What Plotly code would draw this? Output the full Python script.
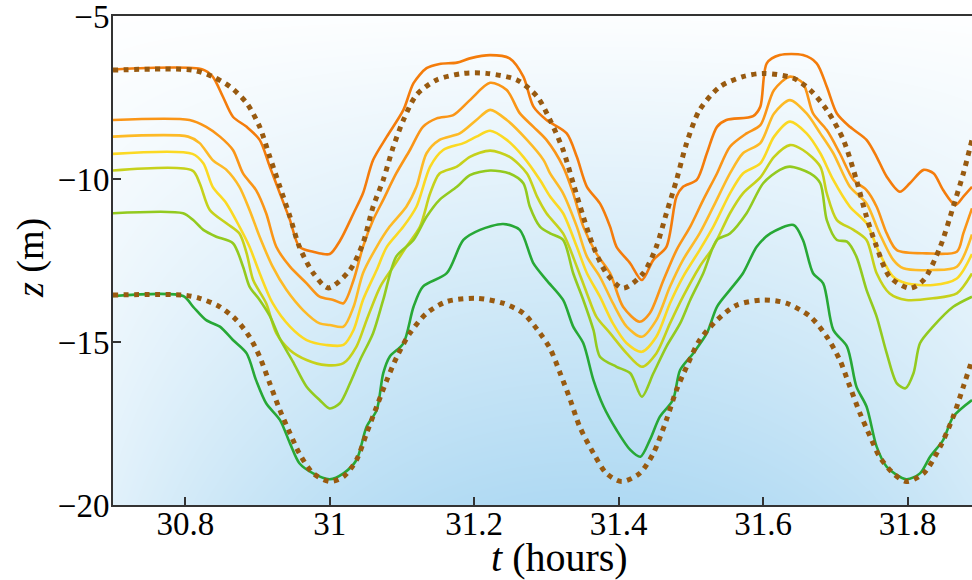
import numpy as np
import plotly.graph_objects as go

# ---------------- data ----------------
d1_t = [30.70, 30.81, 30.838, 30.862, 30.885, 30.903, 30.917, 30.931, 30.945, 30.958, 30.977, 30.998,
        31.028, 31.046, 31.06, 31.074, 31.088, 31.102, 31.12, 31.148, 31.185, 31.217, 31.259, 31.287,
        31.305, 31.323, 31.337, 31.351, 31.365, 31.383, 31.406, 31.434, 31.452, 31.466, 31.48, 31.494,
        31.512, 31.54, 31.572, 31.6, 31.642, 31.665, 31.688, 31.711, 31.729, 31.743, 31.757, 31.775,
        31.803, 31.822, 31.845, 31.863, 31.877, 31.889]
d1_z = [-6.66, -6.66, -6.86, -7.17, -7.67, -8.4, -9.32, -10.24, -11.16, -12.08, -12.88, -13.34,
        -12.79, -11.97, -10.85, -10.03, -9.01, -8.19, -7.42, -6.96, -6.76, -6.76, -6.96, -7.47,
        -8.19, -9.11, -10.13, -11.16, -12.08, -12.89, -13.35, -12.89, -12.08, -11.05, -10.03, -8.9,
        -7.88, -7.17, -6.86, -6.76, -6.91, -7.27, -7.88, -8.8, -10.03, -11.16, -12.08, -13.0,
        -13.35, -13.1, -12.08, -10.85, -9.83, -8.8]

d2_t = [30.70, 30.797, 30.82, 30.848, 30.871, 30.889, 30.903, 30.917, 30.931, 30.945, 30.958, 30.977,
        31.0, 31.019, 31.037, 31.051, 31.065, 31.079, 31.093, 31.111, 31.134, 31.162, 31.203, 31.24,
        31.268, 31.291, 31.305, 31.319, 31.333, 31.346, 31.365, 31.383, 31.404, 31.429, 31.448, 31.466,
        31.48, 31.494, 31.512, 31.536, 31.563, 31.6, 31.632, 31.665, 31.688, 31.706, 31.72, 31.734,
        31.748, 31.761, 31.78, 31.798, 31.822, 31.845, 31.863, 31.877, 31.889]
d2_z = [-13.56, -13.56, -13.66, -13.92, -14.33, -14.84, -15.45, -16.27, -17.09, -17.8, -18.42, -19.03,
        -19.28, -19.13, -18.62, -17.8, -16.98, -16.17, -15.45, -14.73, -14.12, -13.76, -13.66, -13.81,
        -14.12, -14.73, -15.2, -15.96, -16.78, -17.6, -18.41, -19.03, -19.28, -19.03, -18.41, -17.39,
        -16.47, -15.76, -14.94, -14.33, -13.87, -13.71, -13.81, -14.22, -14.84, -15.55, -16.37, -17.19,
        -17.9, -18.52, -19.03, -19.28, -19.03, -18.21, -17.29, -16.37, -15.55]

l1_t = [30.70, 30.824, 30.838, 30.852, 30.866, 30.885, 30.903, 30.917, 30.931, 30.945, 30.958, 30.977,
        31.0, 31.014, 31.033, 31.046, 31.06, 31.079, 31.102, 31.116, 31.134, 31.152, 31.176, 31.194,
        31.222, 31.249, 31.268, 31.282, 31.3, 31.328, 31.342, 31.356, 31.374, 31.388, 31.397, 31.416,
        31.432, 31.448, 31.466, 31.48, 31.489, 31.508, 31.522, 31.536, 31.549, 31.586, 31.596, 31.605,
        31.623, 31.655, 31.674, 31.688, 31.702, 31.72, 31.743, 31.757, 31.771, 31.789, 31.803, 31.822,
        31.836, 31.849, 31.866, 31.877, 31.889]
l1_z = [-6.64, -6.64, -6.86, -7.47, -8.09, -8.4, -8.8, -9.62, -10.44, -11.26, -12.08, -12.23,
        -12.3, -11.9, -11.05, -10.44, -9.42, -8.7, -7.88, -7.06, -6.6, -6.47, -6.43, -6.3,
        -6.2, -6.3, -6.86, -7.78, -8.19, -8.6, -9.32, -10.24, -10.75, -11.46, -12.08, -12.59,
        -13.1, -12.48, -12.08, -10.54, -10.24, -10.03, -9.21, -8.4, -8.19, -8.07, -7.78, -6.45,
        -6.2, -6.2, -6.45, -7.17, -7.99, -8.4, -8.8, -9.32, -9.93, -10.39, -10.13, -9.72,
        -9.83, -10.34, -10.8, -10.54, -10.24]

l2_t = [30.70, 30.806, 30.829, 30.848, 30.866, 30.88, 30.898, 30.912, 30.926, 30.945, 30.968, 30.986,
        31.005, 31.019, 31.033, 31.046, 31.06, 31.074, 31.092, 31.111, 31.129, 31.148, 31.171, 31.194,
        31.222, 31.245, 31.263, 31.282, 31.3, 31.323, 31.337, 31.351, 31.369, 31.388, 31.406, 31.429,
        31.443, 31.462, 31.48, 31.499, 31.517, 31.536, 31.554, 31.577, 31.596, 31.615, 31.637, 31.655,
        31.669, 31.688, 31.706, 31.725, 31.743, 31.757, 31.771, 31.785, 31.826, 31.868, 31.877, 31.889]
l2_z = [-8.19, -8.19, -8.4, -8.7, -9.11, -9.83, -10.34, -11.05, -12.08, -12.69, -13.2, -13.61,
        -13.71, -13.81, -13.1, -12.08, -11.26, -10.64, -9.83, -9.11, -8.4, -8.14, -8.04, -7.58,
        -7.05, -7.27, -7.98, -8.4, -8.8, -9.62, -10.44, -11.46, -12.28, -12.89, -13.92, -14.38,
        -14.12, -13.1, -12.18, -11.46, -10.64, -9.83, -9.01, -8.6, -8.35, -7.27, -6.86, -7.06,
        -7.99, -8.5, -9.21, -10.03, -10.34, -10.85, -11.67, -12.18, -12.28, -12.23, -11.67, -10.9]

l3_t = [30.70, 30.804, 30.82, 30.838, 30.857, 30.875, 30.889, 30.903, 30.921, 30.94, 30.963, 30.986,
        31.0, 31.019, 31.033, 31.046, 31.065, 31.083, 31.106, 31.12, 31.134, 31.152, 31.18, 31.203,
        31.222, 31.245, 31.273, 31.296, 31.305, 31.323, 31.342, 31.356, 31.374, 31.392, 31.411, 31.432,
        31.452, 31.471, 31.489, 31.512, 31.531, 31.554, 31.572, 31.596, 31.615, 31.637, 31.66, 31.679,
        31.697, 31.72, 31.743, 31.761, 31.78, 31.794, 31.835, 31.868, 31.889]
l3_z = [-8.7, -8.7, -8.9, -9.42, -9.72, -10.24, -10.95, -11.77, -12.69, -13.4, -14.02, -14.43,
        -14.48, -14.53, -13.92, -12.89, -12.08, -11.46, -10.85, -10.24, -9.21, -8.8, -8.6, -8.19,
        -7.88, -8.19, -8.8, -9.42, -9.83, -10.44, -11.46, -12.38, -13.0, -13.81, -14.53, -14.84,
        -14.33, -13.3, -12.48, -11.67, -10.85, -9.83, -9.21, -8.9, -7.99, -7.58, -7.99, -8.6,
        -9.21, -10.24, -10.75, -11.67, -12.48, -12.74, -12.79, -12.69, -11.7]

l4_t = [30.70, 30.81, 30.825, 30.838, 30.857, 30.875, 30.889, 30.903, 30.921, 30.945, 30.968, 30.995,
        31.019, 31.033, 31.046, 31.065, 31.079, 31.102, 31.12, 31.139, 31.157, 31.185, 31.203, 31.222,
        31.245, 31.268, 31.291, 31.305, 31.323, 31.342, 31.356, 31.374, 31.392, 31.411, 31.432, 31.452,
        31.471, 31.489, 31.512, 31.531, 31.554, 31.572, 31.596, 31.615, 31.637, 31.66, 31.679, 31.697,
        31.72, 31.743, 31.761, 31.78, 31.798, 31.835, 31.868, 31.889]
l4_z = [-9.23, -9.23, -9.52, -10.24, -10.75, -11.46, -12.08, -12.89, -13.81, -14.53, -14.94, -15.09,
        -15.09, -14.63, -13.71, -12.79, -12.08, -11.46, -10.85, -9.62, -9.11, -8.9, -8.7, -8.52,
        -8.8, -9.32, -10.03, -10.54, -11.05, -12.08, -12.89, -13.61, -14.43, -15.04, -15.3, -14.84,
        -13.81, -13.0, -12.18, -11.46, -10.44, -9.83, -9.52, -8.7, -8.24, -8.6, -9.21, -10.03,
        -10.85, -11.36, -12.28, -13.0, -13.2, -13.25, -13.05, -12.3]

l5_t = [30.70, 30.81, 30.82, 30.834, 30.857, 30.875, 30.885, 30.894, 30.912, 30.926, 30.945, 30.968,
        30.995, 31.019, 31.037, 31.051, 31.07, 31.088, 31.106, 31.125, 31.139, 31.152, 31.176, 31.194,
        31.222, 31.249, 31.273, 31.287, 31.3, 31.323, 31.342, 31.356, 31.369, 31.388, 31.411, 31.432,
        31.452, 31.471, 31.489, 31.512, 31.531, 31.554, 31.572, 31.596, 31.615, 31.637, 31.655, 31.679,
        31.688, 31.702, 31.725, 31.743, 31.757, 31.775, 31.798, 31.835, 31.868, 31.889]
l5_z = [-9.74, -9.74, -10.13, -10.95, -11.36, -11.67, -12.28, -13.1, -13.81, -14.73, -15.25, -15.55,
        -15.71, -15.65, -15.14, -14.33, -13.3, -12.69, -12.08, -11.46, -10.44, -9.83, -9.62, -9.32,
        -9.13, -9.32, -9.83, -10.54, -11.05, -11.67, -12.69, -13.51, -14.22, -14.73, -15.35, -15.76,
        -15.35, -14.43, -13.61, -12.69, -12.08, -11.05, -10.44, -9.95, -9.32, -8.96, -9.11, -9.62,
        -10.44, -11.26, -11.56, -11.87, -12.89, -13.51, -13.71, -13.66, -13.51, -12.9]

l6_t = [30.70, 30.797, 30.811, 30.825, 30.843, 30.866, 30.88, 30.889, 30.903, 30.917, 30.931, 30.949,
        30.968, 30.986, 31.0, 31.014, 31.028, 31.042, 31.06, 31.074, 31.092, 31.116, 31.134, 31.152,
        31.176, 31.194, 31.222, 31.249, 31.268, 31.277, 31.291, 31.305, 31.323, 31.337, 31.351, 31.365,
        31.374, 31.397, 31.416, 31.432, 31.448, 31.466, 31.485, 31.499, 31.517, 31.536, 31.554, 31.577,
        31.6, 31.623, 31.637, 31.665, 31.679, 31.688, 31.702, 31.716, 31.729, 31.743, 31.757, 31.771,
        31.785, 31.797, 31.808, 31.817, 31.835, 31.863, 31.889]
l6_z = [-11.05, -11.05, -11.26, -11.56, -11.77, -11.97, -12.69, -13.3, -13.71, -14.2, -14.9, -15.6,
        -16.37, -16.78, -17.04, -16.88, -16.27, -15.55, -14.73, -13.71, -12.38, -11.87, -11.16, -10.64,
        -10.24, -9.88, -9.74, -9.83, -10.13, -10.85, -11.46, -11.67, -11.87, -12.89, -13.71, -14.63,
        -15.45, -15.76, -15.96, -16.68, -15.96, -15.14, -14.43, -13.71, -12.89, -11.87, -11.67, -11.05,
        -10.13, -9.72, -9.62, -9.83, -10.13, -11.26, -11.87, -11.92, -12.38, -13.4, -14.22, -15.35,
        -16.27, -16.42, -15.96, -15.04, -14.53, -13.92, -13.61]

l7_t = [30.70, 30.797, 30.811, 30.829, 30.848, 30.866, 30.885, 30.898, 30.912, 30.931, 30.945, 30.958,
        30.977, 31.0, 31.019, 31.037, 31.051, 31.065, 31.074, 31.083, 31.102, 31.116, 31.129, 31.162,
        31.185, 31.208, 31.24, 31.263, 31.282, 31.3, 31.323, 31.337, 31.351, 31.365, 31.379, 31.397,
        31.416, 31.43, 31.443, 31.457, 31.475, 31.485, 31.503, 31.522, 31.536, 31.554, 31.572, 31.591,
        31.61, 31.642, 31.655, 31.669, 31.683, 31.697, 31.716, 31.729, 31.743, 31.757, 31.771, 31.798,
        31.817, 31.831, 31.849, 31.863, 31.889]
l7_z = [-13.59, -13.59, -13.92, -14.33, -14.53, -14.94, -15.35, -16.17, -16.88, -17.39, -18.11, -18.72,
        -19.03, -19.21, -19.03, -18.62, -17.6, -17.09, -15.96, -15.45, -15.04, -13.92, -13.3, -12.89,
        -11.87, -11.56, -11.38, -11.56, -12.59, -13.1, -13.71, -14.53, -15.04, -16.17, -16.98, -17.7,
        -18.31, -18.52, -18.01, -17.29, -16.78, -15.86, -15.35, -14.73, -13.92, -13.4, -12.89, -12.08,
        -11.67, -11.41, -11.87, -12.89, -13.2, -14.63, -15.14, -16.37, -16.98, -18.21, -18.83, -19.21,
        -19.03, -18.52, -18.01, -17.29, -16.78]

x_ticks = [30.8, 31.0, 31.2, 31.4, 31.6, 31.8]
x_tick_text = ["30.8", "31", "31.2", "31.4", "31.6", "31.8"]
y_ticks = [-20, -15, -10, -5]
y_tick_text = ["\u221220", "\u221215", "\u221210", "\u22125"]

solid_lines = [
    (l1_t, l1_z, "#f47c0b"),
    (l2_t, l2_z, "#fa9516"),
    (l3_t, l3_z, "#fdba26"),
    (l4_t, l4_z, "#fbd923"),
    (l5_t, l5_z, "#c6d11b"),
    (l6_t, l6_z, "#93ca1f"),
    (l7_t, l7_z, "#27a836"),
]
dotted_lines = [(d1_t, d1_z), (d2_t, d2_z)]

X_MIN, X_MAX = 30.7, 31.889
Y_MIN, Y_MAX = -20, -5
FONT = "Liberation Serif, Times New Roman, serif"

fig = go.Figure()

# background gradient (white at top to light blue at bottom)
gx = np.linspace(X_MIN, X_MAX, 60)
gy = np.linspace(Y_MIN, Y_MAX, 40)
U, V = np.meshgrid((gx - X_MIN) / (X_MAX - X_MIN), (Y_MAX - gy) / (Y_MAX - Y_MIN))
g = 0.03 + 0.87 * V
h = np.clip(1 - 2.05 * (U - 0.55) ** 2, 0, 1)
fig.add_trace(go.Heatmap(x=gx, y=gy, z=g * h, zmin=0, zmax=1, zsmooth="best",
                         colorscale=[[0, "#ffffff"], [1, "#a6d5f1"]], showscale=False,
                         hoverinfo="skip"))

for t, z, c in solid_lines:
    fig.add_trace(go.Scatter(x=t, y=z, mode="lines",
                             line=dict(color=c, width=2.6, shape="spline", smoothing=0.8),
                             showlegend=False))
for t, z in dotted_lines:
    fig.add_trace(go.Scatter(x=t, y=z, mode="lines",
                             line=dict(color="#985a10", width=5, dash="5px,5.5px",
                                       shape="spline", smoothing=0.8),
                             showlegend=False))

fig.update_layout(
    width=972, height=580,
    margin=dict(l=113, r=0, t=16, b=75),
    paper_bgcolor="white", plot_bgcolor="white",
    font=dict(family=FONT, size=33, color="black"),
    showlegend=False,
    xaxis=dict(range=[X_MIN, X_MAX], tickvals=x_ticks, ticktext=x_tick_text,
               ticks="inside", ticklen=8, tickwidth=1.5, tickcolor="#333",
               showline=True, linecolor="#333", linewidth=2, mirror=True,
               showgrid=False, zeroline=False, ticklabelstandoff=-12,
               ticklabeloverflow="allow",
               tickfont=dict(family=FONT, size=33, color="black")),
    yaxis=dict(range=[Y_MIN, Y_MAX], tickvals=y_ticks, ticktext=y_tick_text,
               ticks="inside", ticklen=8, tickwidth=1.5, tickcolor="#333",
               showline=True, linecolor="#333", linewidth=2, mirror=False,
               showgrid=False, zeroline=False, ticklabelstandoff=-5,
               ticklabeloverflow="allow",
               tickfont=dict(family=FONT, size=33, color="black")),
    annotations=[
        dict(text="<i>t</i> (hours)", xref="paper", yref="paper",
             x=(559 - 113) / 859, y=-0.108, xanchor="center", yanchor="middle",
             showarrow=False, font=dict(family=FONT, size=40, color="black")),
        dict(text="<i>z</i> (m)", xref="paper", yref="paper",
             x=(30 - 113) / 859, y=0.505, xanchor="center", yanchor="middle",
             textangle=-90, showarrow=False, font=dict(family=FONT, size=38, color="black")),
    ],
)

fig.write_html("out.html", config={"displayModeBar": False},
               post_script="document.body.style.margin='0';")
